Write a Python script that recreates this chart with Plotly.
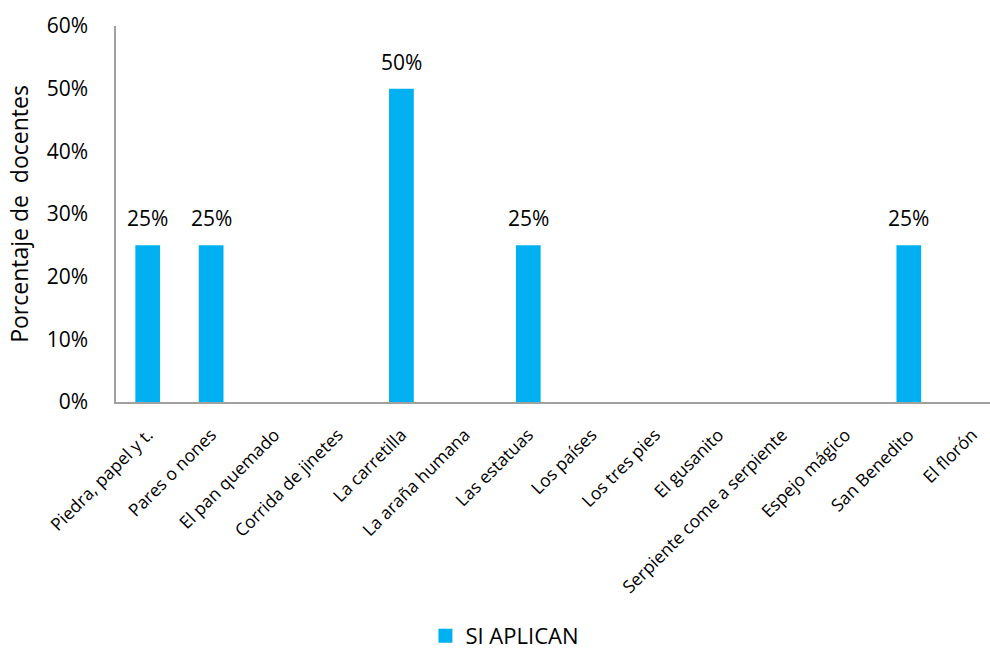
import plotly.graph_objects as go

categories = ["Piedra, papel y t.", "Pares o nones", "El pan quemado", "Corrida de jinetes",
              "La carretilla", "La araña humana", "Las estatuas", "Los países", "Los tres pies",
              "El gusanito", "Serpiente come a serpiente", "Espejo mágico", "San Benedito", "El florón"]
si_aplican = [25, 25, 0, 0, 50, 0, 25, 0, 0, 0, 0, 0, 25, 0]
y_ticks = [0, 10, 20, 30, 40, 50, 60]
y_tick_labels = [f"{v}%" for v in y_ticks]
bar_text = [f"{v}%" if v > 0 else "" for v in si_aplican]

FONT = "Open Sans"
BLUE = "#00B0F0"

fig = go.Figure()
fig.add_trace(go.Bar(
    x=list(range(len(categories))), y=si_aplican, name="SI APLICAN",
    marker=dict(color=BLUE, line=dict(width=0)),
    width=0.39, showlegend=False,
))
# legend entry with square swatch
fig.add_trace(go.Scatter(
    x=[None], y=[None], mode="markers", name="SI APLICAN",
    marker=dict(symbol="square", size=14, color=BLUE),
))

for i, (v, t) in enumerate(zip(si_aplican, bar_text)):
    if t:
        fig.add_annotation(x=i, y=v, text=t, showarrow=False, yanchor="middle", yshift=27,
                           font=dict(family=FONT, size=21, color="#000000"))

fig.update_layout(
    width=990, height=652,
    margin=dict(l=116, r=0, t=26, b=250, autoexpand=False),
    paper_bgcolor="white", plot_bgcolor="white",
    font=dict(family=FONT, color="#000000"),
    showlegend=True,
    legend=dict(orientation="h", x=0.445, xanchor="center", y=-0.622, yanchor="middle",
                font=dict(family=FONT, size=22), itemwidth=30),
)
fig.update_xaxes(
    range=[-0.5, 13.28], tickmode="array", tickvals=list(range(len(categories))),
    ticktext=categories, tickangle=-45, tickfont=dict(family=FONT, size=17.5),
    showline=True, linecolor="#A0A0A0", linewidth=1.5, showgrid=False, zeroline=False,
    ticks="", ticklabelstandoff=14, automargin=False,
)
fig.update_yaxes(
    range=[0, 60], tickmode="array", tickvals=y_ticks, ticktext=y_tick_labels,
    tickfont=dict(family=FONT, size=21),
    showline=True, linecolor="#A0A0A0", linewidth=1.5, showgrid=False, zeroline=False,
    ticks="", ticklabelstandoff=22, automargin=False,
    title=dict(text="Porcentaje de  docentes", font=dict(family=FONT, size=23), standoff=12),
)

fig.write_html("out.html")
